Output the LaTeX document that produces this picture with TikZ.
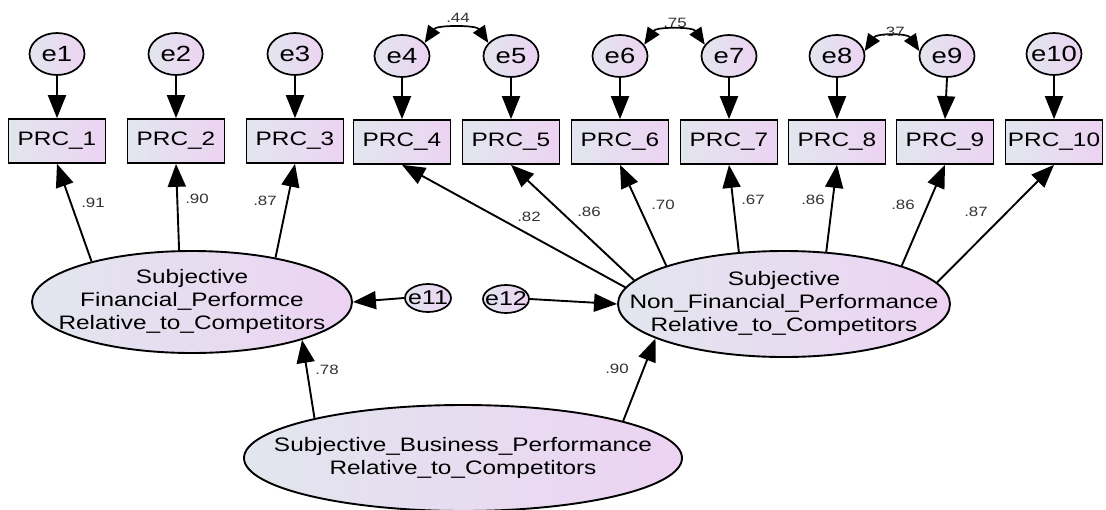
\documentclass[tikz,border=0pt]{standalone}
\usepackage{fontspec}
\setmainfont{Liberation Sans}[FakeStretch=1.25]
\usetikzlibrary{arrows.meta,shapes.geometric}
\definecolor{gL}{HTML}{E2E6EE}
\definecolor{gR}{HTML}{ECD3F2}
\definecolor{coefc}{HTML}{333333}
\newcommand{\mkzero}[1]{\makebox[0pt]{#1}}
\newcommand{\mklines}[1]{\makebox[0pt]{\begin{tabular}{@{}c@{}}#1\end{tabular}}}
\begin{document}
\begin{tikzpicture}[x=1pt,y=-1pt,
  errv/.style={ellipse, draw, line width=1.7pt, left color=gL, right color=gR,
    minimum width=55pt, minimum height=42pt, inner sep=0pt,
    font=\fontsize{22}{25}\selectfont},
  obs/.style={rectangle, draw, line width=1.7pt, left color=gL, right color=gR,
    minimum width=97pt, minimum height=44pt, inner sep=0pt,
    font=\fontsize{19.5}{22}\selectfont},
  smerr/.style={ellipse, draw, line width=1.7pt, left color=gL, right color=gR,
    minimum width=46pt, minimum height=28pt, inner sep=0pt,
    font=\fontsize{20}{23}\selectfont},
  lat/.style={ellipse, draw, line width=1.9pt, left color=gL, right color=gR,
    inner sep=0pt, font=\fontsize{19.5}{23}\selectfont},
  reg/.style={line width=1.9pt, -{Triangle[length=23pt,width=18pt]}},
  cov/.style={line width=1.7pt, {Triangle[length=17pt,width=14pt]}-{Triangle[length=17pt,width=14pt]}},
  coef/.style={font=\fontsize{13.5}{15}\selectfont, text=coefc, inner sep=0pt}
]
\useasboundingbox (0,0) rectangle (1106,509);

% error terms
\node[errv] (e1) at (57,54) {\mkzero{e1}};
\node[errv] (e2) at (176,54) {\mkzero{e2}};
\node[errv] (e3) at (295,54) {\mkzero{e3}};
\node[errv] (e4) at (402,56) {\mkzero{e4}};
\node[errv] (e5) at (511,56) {\mkzero{e5}};
\node[errv] (e6) at (620,56) {\mkzero{e6}};
\node[errv] (e7) at (729,56) {\mkzero{e7}};
\node[errv] (e8) at (837,56) {\mkzero{e8}};
\node[errv] (e9) at (947,56) {\mkzero{e9}};
\node[errv] (e10) at (1054,54) {\mkzero{e10}};

% observed
\node[obs] (p1) at (57,141) {PRC\_1};
\node[obs] (p2) at (176,141) {PRC\_2};
\node[obs] (p3) at (295,141) {PRC\_3};
\node[obs] (p4) at (402,142) {PRC\_4};
\node[obs] (p5) at (511,142) {PRC\_5};
\node[obs] (p6) at (620,142) {PRC\_6};
\node[obs] (p7) at (729,142) {PRC\_7};
\node[obs] (p8) at (837,142) {PRC\_8};
\node[obs] (p9) at (945,142) {PRC\_9};
\node[obs] (p10) at (1054,142) {PRC\_10};

% latents
\node[lat, minimum width=320pt, minimum height=102pt] (fin) at (192,302)
  {\mklines{Subjective\\Financial\_Performce\\Relative\_to\_Competitors}};
\node[lat, minimum width=332pt, minimum height=106pt] (nonfin) at (784,304)
  {\mklines{Subjective\\Non\_Financial\_Performance\\Relative\_to\_Competitors}};
\node[lat, minimum width=438pt, minimum height=106pt] (bus) at (463,458)
  {\mklines{Subjective\_Business\_Performance\\Relative\_to\_Competitors}};

\node[smerr] (e11) at (428,298) {\mkzero{e11}};
\node[smerr] (e12) at (506,299) {\mkzero{e12}};

% error arrows
\foreach \i in {1,...,10} \draw[reg] (e\i.south) -- (p\i.north);
\draw[reg] (e11.west) -- (fin.east);
\draw[reg] (e12.east) -- (nonfin.west);

% loadings
\draw[reg] (fin.158.4) -- (p1.south);
\draw[reg] (fin.104.6) -- (p2.south);
\draw[reg] (fin.28.2) -- (p3.south);
\draw[reg] (nonfin.174.6) -- (p4.south);
\draw[reg] (nonfin.171.9) -- (p5.south);
\draw[reg] (nonfin.162.1) -- (p6.south);
\draw[reg] (nonfin.131) -- (p7.south);
\draw[reg] (nonfin.51) -- (p8.south);
\draw[reg] (nonfin.18.7) -- (p9.south);
\draw[reg] (nonfin.8.1) -- (p10.south);
\draw[reg] (bus.165.8) -- (fin.341.4);
\draw[reg] (bus.13.2) -- (nonfin.195);

% covariances
\draw[cov] (e4.30) .. controls +(12,-18) and +(-12,-18) .. (e5.150);
\draw[cov] (e6.25) .. controls +(12,-18) and +(-12,-18) .. (e7.155);
\draw[cov] (e8.10) .. controls +(12,-18) and +(-12,-18) .. (e9.170);

% coefficients
\node[coef] (c1) at (93,203) {.91};
\node[coef] (c2) at (197,199) {.90};
\node[coef] (c3) at (265,201) {.87};
\node[coef] (c4) at (529,217) {.82};
\node[coef] (c5) at (589,212) {.86};
\node[coef] (c6) at (663,205) {.70};
\node[coef] (c7) at (753,200) {.67};
\node[coef] (c8) at (813,200) {.86};
\node[coef] (c9) at (903,205) {.86};
\node[coef] (c10) at (976,212) {.87};
\node[coef] (c11) at (327,370) {.78};
\node[coef] (c12) at (617,369) {.90};
\node[coef] (c13) at (458,18) {.44};
\node[coef] (c14) at (675,23) {.75};
\node[coef] (c15) at (893,32) {.37};
\end{tikzpicture}
\end{document}
